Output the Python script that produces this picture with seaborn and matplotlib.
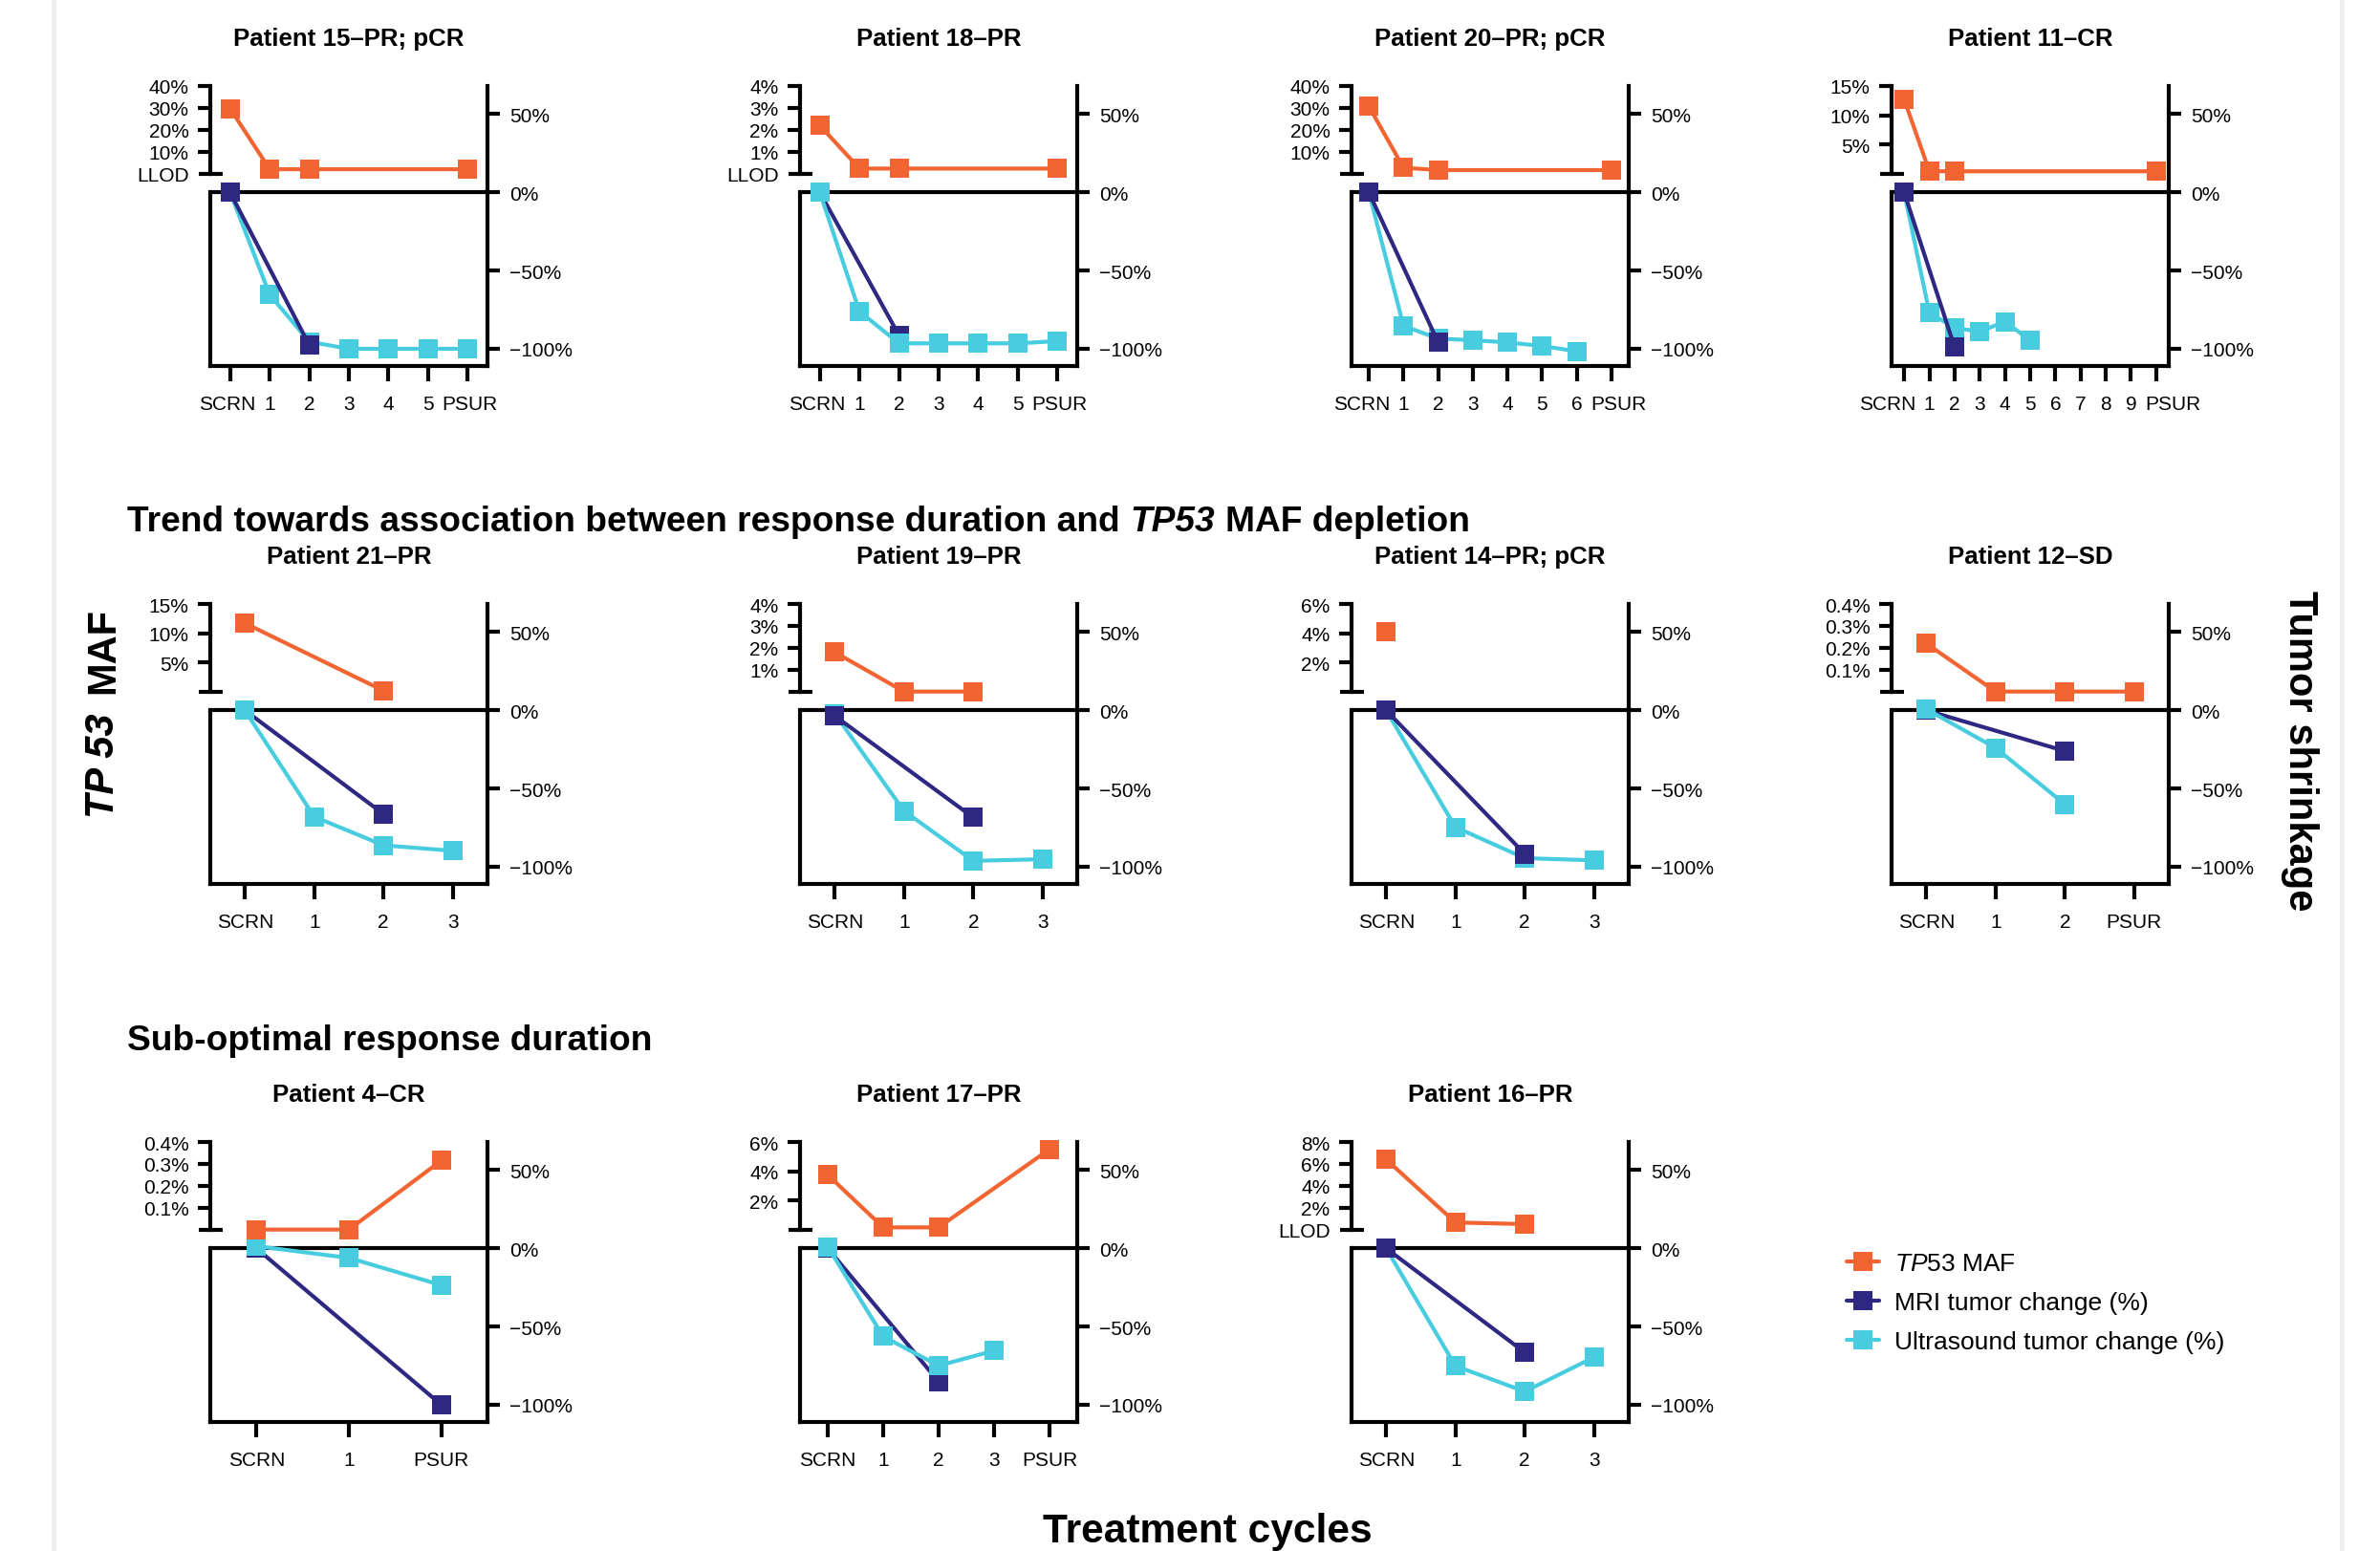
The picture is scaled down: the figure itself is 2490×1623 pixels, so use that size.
import matplotlib
matplotlib.use("Agg")
import matplotlib.pyplot as plt
import seaborn as sns
from matplotlib.lines import Line2D
from matplotlib.transforms import ScaledTranslation

# ---------------------------------------------------------------- data
titles = [
    "Patient 15\u2013PR; pCR", "Patient 18\u2013PR", "Patient 20\u2013PR; pCR", "Patient 11\u2013CR",
    "Patient 21\u2013PR", "Patient 19\u2013PR", "Patient 14\u2013PR; pCR", "Patient 12\u2013SD",
    "Patient 4\u2013CR", "Patient 17\u2013PR", "Patient 16\u2013PR",
]

cycles = [
    ["SCRN", "1", "2", "3", "4", "5", "PSUR"],
    ["SCRN", "1", "2", "3", "4", "5", "PSUR"],
    ["SCRN", "1", "2", "3", "4", "5", "6", "PSUR"],
    ["SCRN", "1", "2", "3", "4", "5", "6", "7", "8", "9", "PSUR"],
    ["SCRN", "1", "2", "3"],
    ["SCRN", "1", "2", "3"],
    ["SCRN", "1", "2", "3"],
    ["SCRN", "1", "2", "PSUR"],
    ["SCRN", "1", "PSUR"],
    ["SCRN", "1", "2", "3", "PSUR"],
    ["SCRN", "1", "2", "3"],
]

# TP53 MAF (%)
maf_at = [
    ["SCRN", "1", "2", "PSUR"], ["SCRN", "1", "2", "PSUR"], ["SCRN", "1", "2", "PSUR"],
    ["SCRN", "1", "2", "PSUR"], ["SCRN", "2"], ["SCRN", "1", "2"], ["SCRN"],
    ["SCRN", "1", "2", "PSUR"], ["SCRN", "1", "PSUR"], ["SCRN", "1", "2", "PSUR"],
    ["SCRN", "1", "2"],
]
maf_vals = [
    [29.7, 2.0, 2.0, 2.0], [2.2, 0.23, 0.23, 0.23], [30.7, 2.7, 1.6, 1.6],
    [12.7, 0.4, 0.4, 0.4], [11.7, 0.15], [1.8, 0.0, 0.0], [4.1],
    [0.22, 0.0, 0.0, 0.0], [0.0, 0.0, 0.315], [3.75, 0.15, 0.15, 5.5],
    [6.4, 0.65, 0.5],
]
maf_ticks = [
    [10, 20, 30, 40], [1, 2, 3, 4], [10, 20, 30, 40], [5, 10, 15],
    [5, 10, 15], [1, 2, 3, 4], [2, 4, 6], [0.1, 0.2, 0.3, 0.4],
    [0.1, 0.2, 0.3, 0.4], [2, 4, 6], [2, 4, 6, 8],
]
llod_label = ["LLOD", "LLOD", "", "", "", "", "", "", "", "", "LLOD"]

# MRI tumor change (%)
mri_at = [
    ["SCRN", "2"], ["SCRN", "2"], ["SCRN", "2"], ["SCRN", "2"], ["SCRN", "2"], ["SCRN", "2"],
    ["SCRN", "2"], ["SCRN", "2"], ["SCRN", "PSUR"], ["SCRN", "2"], ["SCRN", "2"],
]
mri_vals = [
    [0, -97.6], [0, -91.4], [0, -95.9], [0, -99], [0, -66.3], [-3.5, -68.5],
    [0, -91.8], [0, -26], [0, -100], [0, -85.2], [0, -66.5],
]

# Ultrasound tumor change (%)
us_at = [
    ["SCRN", "1", "2", "3", "4", "5", "PSUR"],
    ["SCRN", "1", "2", "3", "4", "5", "PSUR"],
    ["SCRN", "1", "2", "3", "4", "5", "6"],
    ["SCRN", "1", "2", "3", "4", "5"],
    ["SCRN", "1", "2", "3"],
    ["SCRN", "1", "2", "3"],
    ["SCRN", "1", "2", "3"],
    ["SCRN", "1", "2"],
    ["SCRN", "1", "PSUR"],
    ["SCRN", "1", "2", "3"],
    ["SCRN", "1", "2", "3"],
]
us_vals = [
    [0, -65.3, -95.5, -100, -100, -100, -100],
    [0, -76.1, -96.5, -96.5, -96.5, -96.5, -95.1],
    [0, -85.3, -93.5, -94.5, -95.9, -98.2, -101.6],
    [0, -77, -86.6, -89, -82.6, -94.6],
    [0, -68, -86.3, -89.8],
    [-2, -64.3, -96.2, -95.2],
    [0, -74.7, -94.5, -95.9],
    [0.8, -24, -60],
    [1.4, -6.1, -23.5],
    [1, -56.3, -75, -65.4],
    [0, -75.2, -91.5, -69.6],
]

# ---------------------------------------------------------------- style
C_MAF = "#F26532"
C_MRI = "#2E2882"
C_US = "#48CDE0"
LW = 1.5
LW_DATA = 1.5
MS = 7.3
TICK_FS = 7.5

FIG_W, FIG_H, DPI = 2490, 1624, 200
col_left = [220, 837, 1414, 1979]
row_top = [91, 633, 1196]
PANEL_W, PANEL_H = 290, 293
Y_LIM = (-111, 68)
MAF_FLOOR = 12  # tumor-change level where the MAF scale begins
mri_front = {0, 2, 3, 5, 6, 10}

sns.set_style("ticks", {"axes.edgecolor": "black", "xtick.color": "black",
                        "ytick.color": "black", "text.color": "black"})
plt.rcParams["font.family"] = ["Liberation Sans", "DejaVu Sans"]
plt.rcParams["mathtext.fontset"] = "custom"
plt.rcParams["mathtext.rm"] = "Liberation Sans"
plt.rcParams["mathtext.it"] = "Liberation Sans:italic"

fig = plt.figure(figsize=(FIG_W / DPI, FIG_H / DPI), dpi=DPI)


def px_rect(left, top, w, h):
    return [left / FIG_W, 1 - (top + h) / FIG_H, w / FIG_W, h / FIG_H]


def pct(v):
    return f"{v:g}%"


for i, title in enumerate(titles):
    row, col = divmod(i, 4)
    ax = fig.add_axes(px_rect(col_left[col], row_top[row], PANEL_W, PANEL_H))
    labels = cycles[i]
    n = len(labels)
    pos = {lab: k for k, lab in enumerate(labels)}

    ax.axhline(0, color="black", lw=LW, zorder=1)
    z_mri, z_us = (4, 3) if i in mri_front else (3, 4)
    line_kw = dict(linewidth=LW_DATA, marker="s", markersize=MS, markeredgewidth=0,
                   clip_on=False, legend=False)
    sns.lineplot(x=[pos[v] for v in mri_at[i]], y=mri_vals[i], ax=ax, color=C_MRI,
                 zorder=z_mri, **line_kw)
    sns.lineplot(x=[pos[v] for v in us_at[i]], y=us_vals[i], ax=ax, color=C_US,
                 zorder=z_us, **line_kw)

    ax.set_xlim(-0.5, n - 0.5)
    ax.set_ylim(*Y_LIM)
    ax.set_xticks(range(n), labels)
    ax.set_yticks([50, 0, -50, -100], ["50%", "0%", "\u221250%", "\u2212100%"])
    ax.yaxis.tick_right()
    ax.set_xlabel("")
    ax.set_ylabel("")
    ax.spines["top"].set_visible(False)
    for s in ["left", "right", "bottom"]:
        ax.spines[s].set_linewidth(LW)
    ax.spines["left"].set_bounds(Y_LIM[0], 0)
    ax.tick_params(axis="y", direction="out", length=4.8, width=LW, pad=3.5,
                   labelsize=TICK_FS)
    ax.tick_params(axis="x", direction="out", length=5.8, width=LW, pad=5,
                   labelsize=TICK_FS)
    ax.set_title(title, fontsize=9.3, fontweight="bold", pad=15.5)

    # crowded axes: nudge the end labels outwards
    shift = max(0, 44 - PANEL_W / n) / DPI
    xl = ax.get_xticklabels()
    if shift > 0:
        if labels[0] == "SCRN":
            xl[0].set_transform(xl[0].get_transform()
                                + ScaledTranslation(-shift, 0, fig.dpi_scale_trans))
        if labels[-1] == "PSUR":
            xl[-1].set_transform(xl[-1].get_transform()
                                 + ScaledTranslation(shift, 0, fig.dpi_scale_trans))

    # MAF scale on the upper-left part of the panel
    f = (MAF_FLOOR - Y_LIM[0]) / (Y_LIM[1] - Y_LIM[0])
    maf = ax.inset_axes([0, f, 1, 1 - f])
    maf.set_facecolor("none")
    sns.lineplot(x=[pos[v] for v in maf_at[i]], y=maf_vals[i], ax=maf, color=C_MAF,
                 zorder=3, **line_kw)
    maf.set_xlim(-0.5, n - 0.5)
    maf.set_ylim(0, maf_ticks[i][-1])
    maf.set_yticks(maf_ticks[i], [pct(v) for v in maf_ticks[i]])
    maf.set_yticks([0], [llod_label[i]], minor=True)
    maf.set_xlabel("")
    maf.set_ylabel("")
    for s in ["top", "right", "bottom"]:
        maf.spines[s].set_visible(False)
    maf.spines["left"].set_linewidth(LW)
    maf.tick_params(axis="x", bottom=False, labelbottom=False)
    maf.tick_params(axis="y", which="major", direction="out", length=4.8, width=LW,
                    pad=3.3, labelsize=TICK_FS)
    maf.tick_params(axis="y", which="minor", direction="inout", length=9, width=LW,
                    pad=3.6, labelsize=TICK_FS)

# ---------------------------------------------------------------- annotations
renderer = fig.canvas.get_renderer()


def text_runs(x_px, y_px, runs, size, vertical=False):
    """Write text pieces of mixed style one after another."""
    gap = 0.3 * size * DPI / 72
    for s, style in runs:
        if vertical:
            t = fig.text(x_px / FIG_W, 1 - y_px / FIG_H, s, rotation=90, ha="center",
                         va="bottom", fontsize=size, fontweight="bold", fontstyle=style)
            y_px -= t.get_window_extent(renderer).height + gap * 1.6
        else:
            t = fig.text(x_px / FIG_W, 1 - y_px / FIG_H, s, ha="left", va="baseline",
                         fontsize=size, fontweight="bold", fontstyle=style)
            x_px += t.get_window_extent(renderer).width + gap


text_runs(133, 556, [("Trend towards association between response duration and", "normal"),
                     ("TP53", "italic"), ("MAF depletion", "normal")], 13.35)
text_runs(133, 1099, [("Sub-optimal response duration", "normal")], 13.35)
text_runs(108, 856, [("TP 53", "italic"), ("MAF", "normal")], 15, vertical=True)
fig.text(2406 / FIG_W, 1 - 786 / FIG_H, "Tumor shrinkage", rotation=-90, ha="center",
         va="center", fontsize=15, fontweight="bold")
fig.text(1263 / FIG_W, 1 - 1603 / FIG_H, "Treatment cycles", ha="center", va="center",
         fontsize=15.3, fontweight="bold")

handles = [Line2D([], [], color=c, lw=LW_DATA, marker="s", ms=MS, mew=0)
           for c in (C_MAF, C_MRI, C_US)]
fig.legend(handles, [r"$\it{TP53}$ MAF", "MRI tumor change (%)", "Ultrasound tumor change (%)"],
           loc="upper left", bbox_to_anchor=(1932 / FIG_W, 1 - 1311 / FIG_H), frameon=False,
           fontsize=9.5, handlelength=1.3, handletextpad=0.6, labelspacing=0.64,
           borderpad=0, borderaxespad=0)

# page edges
for xe in (56, 2450):
    fig.add_artist(Line2D([xe / FIG_W] * 2, [0, 1], transform=fig.transFigure,
                          color="#eeeeee", lw=1.8))

fig.savefig("out.png", dpi=DPI)
